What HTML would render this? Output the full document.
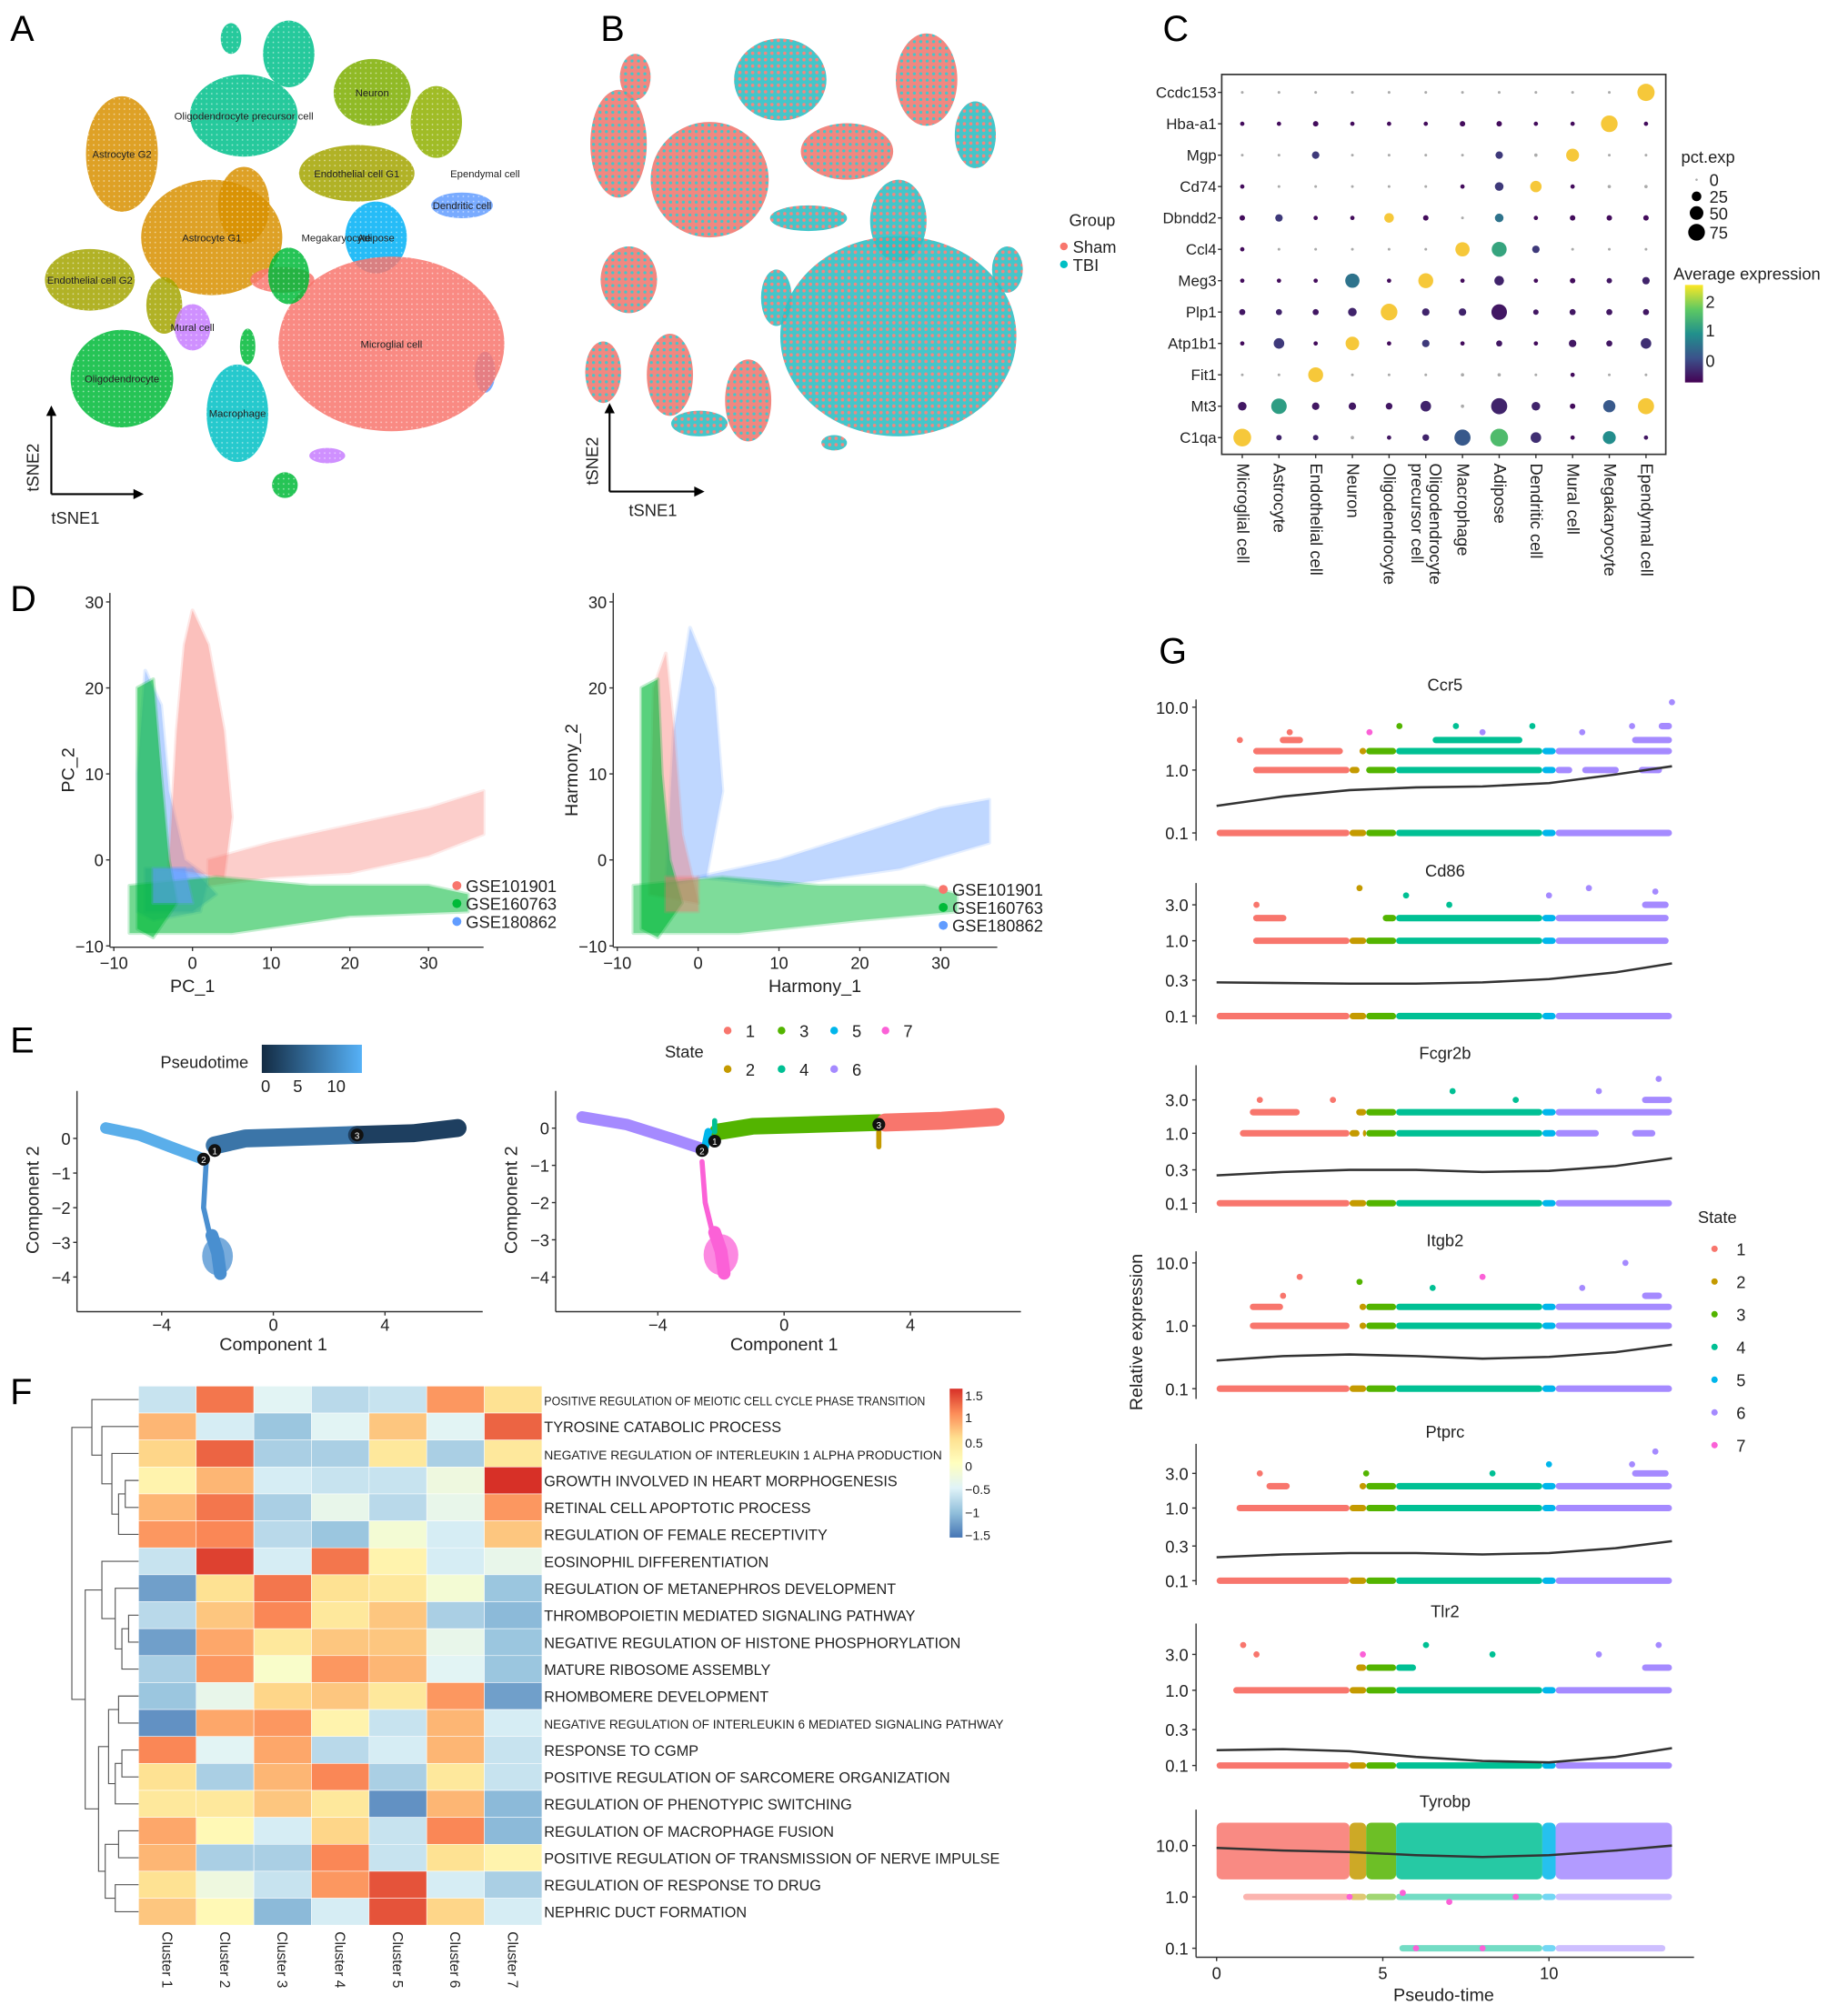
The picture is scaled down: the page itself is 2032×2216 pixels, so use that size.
<!DOCTYPE html>
<html><head><meta charset="utf-8">
<style>
html,body{margin:0;padding:0;background:#fff;}
svg{display:block;font-family:"Liberation Sans",sans-serif;}
</style></head>
<body>
<svg id="fig" xmlns="http://www.w3.org/2000/svg" width="2032" height="2216" viewBox="0 0 1440 1570" preserveAspectRatio="none"></svg>
<script>
// ===== Data arrays =====
const dotGenes = ["Ccdc153","Hba-a1","Mgp","Cd74","Dbndd2","Ccl4","Meg3","Plp1","Atp1b1","Fit1","Mt3","C1qa"];
const dotCells = ["Microglial cell","Astrocyte","Endothelial cell","Neuron","Oligodendrocyte","Oligodendrocyte|precursor cell","Macrophage","Adipose","Dendritic cell","Mural cell","Megakaryocyte","Ependymal cell"];
const dotPct = [
[2,2,2,2,2,2,2,2,2,2,2,80],
[5,5,8,5,5,5,8,8,5,5,75,5],
[2,2,15,2,2,2,2,15,3,45,2,2],
[5,2,2,2,2,2,5,20,35,5,3,3],
[8,15,5,5,25,8,2,20,5,8,8,8],
[5,2,2,2,2,2,55,60,15,2,2,2],
[5,5,5,55,5,60,5,25,5,8,8,15],
[10,10,10,20,75,15,15,65,8,10,10,10],
[5,30,5,50,5,15,5,10,5,15,10,30],
[2,2,60,2,2,2,3,3,2,5,2,2],
[20,65,15,15,12,30,3,70,20,8,40,70],
[85,8,8,3,5,12,70,85,30,5,45,5]];
const dotAvg = [
[-0.4,-0.4,-0.4,-0.4,-0.4,-0.4,-0.4,-0.4,-0.4,-0.4,-0.4,2.4],
[-0.4,-0.4,-0.4,-0.4,-0.4,-0.4,-0.4,-0.4,-0.4,-0.4,2.4,-0.4],
[-0.4,-0.4,0,-0.4,-0.4,-0.4,-0.4,0,-0.4,2.4,-0.4,-0.4],
[-0.4,-0.4,-0.4,-0.4,-0.4,-0.4,-0.4,0,2.4,-0.4,-0.4,-0.4],
[-0.4,0,-0.4,-0.4,2.3,-0.4,-0.4,0.6,-0.4,-0.4,-0.4,-0.4],
[-0.4,-0.4,-0.4,-0.4,-0.4,-0.4,2.4,1.2,0,-0.4,-0.4,-0.4],
[-0.4,-0.4,-0.4,0.6,-0.4,2.4,-0.4,-0.2,-0.4,-0.4,-0.3,-0.2],
[-0.3,-0.2,-0.3,-0.2,2.4,-0.2,-0.2,-0.3,-0.3,-0.3,-0.3,-0.3],
[-0.4,0,-0.4,2.4,-0.4,0,-0.4,-0.3,-0.4,-0.3,-0.3,-0.1],
[-0.4,-0.4,2.4,-0.4,-0.4,-0.4,-0.4,-0.4,-0.4,-0.4,-0.4,-0.4],
[-0.3,1.1,-0.3,-0.3,-0.3,-0.2,-0.4,-0.2,-0.2,-0.4,0.3,2.4],
[2.4,-0.2,-0.2,-0.3,-0.3,-0.2,0.3,1.5,-0.1,-0.4,0.9,-0.3]];

const hmTerms = ["POSITIVE REGULATION OF MEIOTIC CELL CYCLE PHASE TRANSITION","TYROSINE CATABOLIC PROCESS","NEGATIVE REGULATION OF INTERLEUKIN 1 ALPHA PRODUCTION","GROWTH INVOLVED IN HEART MORPHOGENESIS","RETINAL CELL APOPTOTIC PROCESS","REGULATION OF FEMALE RECEPTIVITY","EOSINOPHIL DIFFERENTIATION","REGULATION OF METANEPHROS DEVELOPMENT","THROMBOPOIETIN MEDIATED SIGNALING PATHWAY","NEGATIVE REGULATION OF HISTONE PHOSPHORYLATION","MATURE RIBOSOME ASSEMBLY","RHOMBOMERE DEVELOPMENT","NEGATIVE REGULATION OF INTERLEUKIN 6 MEDIATED SIGNALING PATHWAY","RESPONSE TO CGMP","POSITIVE REGULATION OF SARCOMERE ORGANIZATION","REGULATION OF PHENOTYPIC SWITCHING","REGULATION OF MACROPHAGE FUSION","POSITIVE REGULATION OF TRANSMISSION OF NERVE IMPULSE","REGULATION OF RESPONSE TO DRUG","NEPHRIC DUCT FORMATION"];
const hmClusters = ["Cluster 1","Cluster 2","Cluster 3","Cluster 4","Cluster 5","Cluster 6","Cluster 7"];
const hmValues = [
[-0.7,1.2,-0.5,-0.8,-0.7,1.0,0.5],
[0.8,-0.6,-1.0,-0.5,0.7,-0.5,1.3],
[0.6,1.3,-0.9,-0.9,0.4,-0.9,0.4],
[0.2,0.8,-0.6,-0.7,-0.7,-0.3,1.6],
[0.8,1.2,-0.9,-0.4,-0.8,-0.4,1.0],
[1.0,1.1,-0.8,-1.0,-0.2,-0.6,0.7],
[-0.7,1.5,-0.6,1.2,0.2,-0.6,-0.4],
[-1.3,0.5,1.2,0.5,0.4,-0.2,-1.0],
[-0.8,0.7,1.1,0.4,0.7,-0.9,-1.1],
[-1.3,0.9,0.4,0.7,0.7,-0.4,-1.0],
[-0.9,1.0,-0.1,1.0,0.8,-0.5,-1.0],
[-1.0,-0.4,0.6,0.7,0.4,1.0,-1.3],
[-1.4,0.9,1.0,0.2,-0.7,0.8,-0.6],
[1.1,-0.5,0.9,-0.8,-0.6,0.8,-0.7],
[0.5,-0.9,0.8,1.1,-0.9,0.4,-0.7],
[0.4,0.4,0.7,0.4,-1.4,0.8,-1.1],
[0.9,0.1,-0.6,0.6,-0.7,1.1,-1.1],
[0.8,-0.9,-0.9,1.1,-0.7,0.5,0.2],
[0.5,-0.3,-0.7,1.0,1.4,-0.6,-0.9],
[0.7,0.1,-1.1,-0.6,1.4,0.6,-0.6]];
const hmMerges = [[3,4,0.2],[20,5,0.3],[2,21,0.4],[1,22,0.55],[0,23,0.7],[8,9,0.15],[25,10,0.25],[7,26,0.35],[6,27,0.55],[11,12,0.3],[13,14,0.25],[30,15,0.35],[29,31,0.45],[16,17,0.3],[18,19,0.35],[33,34,0.5],[32,35,0.6],[28,36,0.8],[24,37,1.0]];

const gGenes = ["Ccr5","Cd86","Fcgr2b","Itgb2","Ptprc","Tlr2","Tyrobp"];
const gTicks = [[10,1,0.1],[3,1,0.3,0.1],[3,1,0.3,0.1],[10,1,0.1],[3,1,0.3,0.1],[3,1,0.3,0.1],[10,1,0.1]];
const gCurveX = [0,2,4,6,8,10,12,13.7];
const gCurves = [
[0.27,0.38,0.48,0.53,0.55,0.62,0.85,1.15],
[0.28,0.275,0.27,0.27,0.28,0.31,0.38,0.5],
[0.25,0.28,0.3,0.3,0.28,0.29,0.34,0.44],
[0.28,0.33,0.35,0.33,0.3,0.32,0.38,0.5],
[0.21,0.23,0.24,0.24,0.23,0.24,0.28,0.35],
[0.16,0.165,0.155,0.13,0.115,0.11,0.13,0.17],
[9,8,7.5,6.5,6,6.5,8,10]];
// bands: [gene index, value, from, to]
const gBands = [
[0,0.1,0,13.7],[0,1,1.1,4.3],[0,1,4.5,10.7],[0,1,11,12.1],[0,1,12.7,13.4],[0,2,1.1,3.8],[0,2,4.3,13.7],[0,3,1.9,2.6],[0,3,6.5,9.2],[0,3,12.5,13.7],[0,5,13.3,13.7],
[1,0.1,0,13.7],[1,1,1.1,13.6],[1,2,1.1,2.1],[1,2,5,13.6],[1,3,12.8,13.6],
[2,0.1,0,13.7],[2,1,0.7,4.3],[2,1,4.4,11.5],[2,1,12.5,13.2],[2,2,1,2.5],[2,2,4.2,13.7],[2,3,12.8,13.7],
[3,0.1,0,13.7],[3,1,1,4],[3,1,4.3,13.7],[3,2,1,2],[3,2,4.3,13.7],[3,3,12.8,13.4],
[4,0.1,0,13.7],[4,1,0.6,13.7],[4,2,1.5,2.2],[4,2,4.3,13.7],[4,3,12.5,13.6],
[5,0.1,0,13.7],[5,1,0.5,13.7],[5,2,4.2,6],[5,2,12.8,13.7],
[6,1,0.8,13.7],[6,0.1,5.5,13.5]];
// dense cloud: [gene index, low value, high value, from, to]
const gClouds = [[6,2.2,28,0,13.7]];
const gSparse = [
[0,0.7,3,1],[0,2.2,4,1],[0,5.5,5,3],[0,8,4,6],[0,9.5,5,4],[0,11,4,6],[0,12.5,5,6],[0,13.7,12,6],[0,7.2,5,4],[0,4.6,4,7],
[1,1.2,3,1],[1,4.3,5,2],[1,5.7,4,4],[1,7,3,4],[1,11.2,5,6],[1,13.2,4.5,6],[1,10,4,6],
[2,1.3,3,1],[2,3.5,3,1],[2,7.1,4,4],[2,11.5,4,6],[2,13.3,6,6],[2,9,3,4],
[3,2.5,6,1],[3,8,6,7],[3,4.3,5,3],[3,12.3,10,6],[3,6.5,4,4],[3,11,4,6],[3,2,3,1],
[4,1.3,3,1],[4,4.5,3,3],[4,10,4,5],[4,12.5,4,6],[4,13.2,6,6],[4,8.3,3,4],
[5,0.8,4,1],[5,1.2,3,1],[5,4.4,3,7],[5,6.3,4,4],[5,8.3,3,4],[5,11.5,3,6],[5,13.3,4,6],
[6,4,1,7],[6,5.6,1.2,7],[6,7,0.8,7],[6,9,1,7],[6,6,0.1,7],[6,8,0.1,7]];
const stateSegs = [[0,4,1],[4,4.5,2],[4.5,5.4,3],[5.4,9.8,4],[9.8,10.2,5],[10.2,13.7,6]];
const stateColors = ["#F8766D","#C49A00","#53B400","#00C094","#00B6EB","#A58AFF","#FB61D7"];

// ===== helpers =====
const NS="http://www.w3.org/2000/svg";
const fig=document.getElementById('fig');
function mk(tag,attrs,parent){const e=document.createElementNS(NS,tag);for(const k in attrs)e.setAttribute(k,attrs[k]);(parent||fig).appendChild(e);return e;}
function txt(x,y,s,size,extra,parent){const e=mk('text',Object.assign({x:x,y:y,'font-size':size,fill:'#222'},extra||{}),parent);e.textContent=s;return e;}
function grp(name){const g=mk('g',{});return g;}

[["A",8,32],["B",468,32],["C",906,32],["D",8,476],["E",8,820],["F",8,1094],["G",903,517]].forEach(p=>{
  const t=txt(p[1],p[2],p[0],28,{fill:'#000'});
  
  
});

const defs=mk('defs',{});
// speckle pattern for tSNE A
const spk=mk('pattern',{id:'spk',width:4,height:4,patternUnits:'userSpaceOnUse'},defs);
mk('rect',{x:0,y:0,width:4,height:4,fill:'#000',opacity:0},spk);
mk('circle',{cx:1,cy:1,r:0.6,fill:'#fff',opacity:0.6},spk);

// ===== Panel A =====
const gA=grp('panel-a-tsne-clusters');
const aClusters=[
["#00C08B",225,42,20,26,""],["#00C08B",190,90,42,32,"Oligodendrocyte precursor cell"],["#00C08B",180,30,8,12,""],
["#7CAE00",290,72,30,26,"Neuron"],["#8FB000",340,95,20,28,""],
["#D89000",95,120,28,45,"Astrocyte G2"],["#D89000",165,185,55,45,"Astrocyte G1"],["#D89000",190,160,20,30,""],
["#A3A500",70,218,35,24,"Endothelial cell G2"],["#A3A500",128,238,14,22,""],["#A3A500",278,135,45,22,"Endothelial cell G1"],
["#00B0F6",293,185,24,28,"Adipose"],["#619CFF",360,160,24,10,"Dendritic cell"],["#619CFF",378,290,8,16,""],
["#F8766D",305,268,88,68,"Microglial cell"],["#F8766D",220,218,25,10,""],
["#00BA38",225,215,16,22,""],["#00BA38",95,295,40,38,"Oligodendrocyte"],["#00BA38",222,378,10,10,""],["#00BA38",193,270,6,14,""],
["#C77CFF",150,255,14,18,"Mural cell"],["#C77CFF",255,355,14,6,""],
["#00BFC4",185,322,24,38,"Macrophage"]];
aClusters.forEach(c=>{
  const e=mk('ellipse',{cx:c[1],cy:c[2],rx:c[3],ry:c[4],fill:c[0],opacity:0.85},gA);
  
  
  mk('ellipse',{cx:c[1],cy:c[2],rx:c[3],ry:c[4],fill:'url(#spk)'},gA);
});
aClusters.forEach(c=>{ if(c[5]) txt(c[1],c[2]+3,c[5],8,{'text-anchor':'middle',fill:'#222'},gA); });
txt(262,188,"Megakaryocyte",8,{'text-anchor':'middle'},gA);
txt(378,138,"Ependymal cell",8,{'text-anchor':'middle'},gA);
mk('line',{x1:40,y1:385,x2:40,y2:320,stroke:'#000','stroke-width':1.5},gA);
mk('line',{x1:40,y1:385,x2:108,y2:385,stroke:'#000','stroke-width':1.5},gA);
mk('path',{d:'M36,324 L40,316 L44,324 Z',fill:'#000'},gA);
mk('path',{d:'M104,381 L112,385 L104,389 Z',fill:'#000'},gA);
txt(30,383,"tSNE2",13,{transform:'rotate(-90 30 383)'},gA);
txt(40,408,"tSNE1",13,{},gA);

// ===== Panel B =====
const gB=grp('panel-b-tsne-group');
const pat=mk('pattern',{id:'mix',width:5,height:5,patternUnits:'userSpaceOnUse'},defs);
mk('rect',{x:0,y:0,width:5,height:5,fill:'#2EC0C4'},pat);
mk('circle',{cx:1.5,cy:1.5,r:1.3,fill:'#F07A72'},pat);
const pat2=mk('pattern',{id:'mixr',width:5,height:5,patternUnits:'userSpaceOnUse'},defs);
mk('rect',{x:0,y:0,width:5,height:5,fill:'#F07A72'},pat2);
mk('circle',{cx:2.5,cy:2.5,r:1.2,fill:'#2EC0C4'},pat2);
const bBlobs=[
["mix",700,262,92,78],["mixr",553,140,46,45],["mixr",482,112,22,42],["mix",608,62,36,32],["mixr",660,118,36,22],["mix",700,172,22,32],
["mixr",490,218,22,26],["mix",605,232,12,22],["mixr",470,290,14,24],["mixr",522,292,18,32],["mixr",583,312,18,32],["mixr",722,62,24,36],["mix",760,105,16,26],
["mix",785,210,12,18],["mix",630,170,30,10],["mixr",495,60,12,18],["mix",650,345,10,6],["mix",545,330,22,10]];
bBlobs.forEach(b=>{
  const e=mk('ellipse',{cx:b[1],cy:b[2],rx:b[3],ry:b[4],fill:'url(#'+b[0]+')',opacity:0.9},gB);
  
  
});
mk('line',{x1:475,y1:383,x2:475,y2:318,stroke:'#000','stroke-width':1.5},gB);
mk('line',{x1:475,y1:383,x2:545,y2:383,stroke:'#000','stroke-width':1.5},gB);
mk('path',{d:'M471,322 L475,314 L479,322 Z',fill:'#000'},gB);
mk('path',{d:'M541,379 L549,383 L541,387 Z',fill:'#000'},gB);
txt(466,378,"tSNE2",13,{transform:'rotate(-90 466 378)'},gB);
txt(490,402,"tSNE1",13,{},gB);
const gBL=grp('legend-group');
txt(833,176,"Group",13,{},gBL);
mk('circle',{cx:829,cy:192,r:3,fill:'#F8766D'},gBL); txt(836,197,"Sham",13,{},gBL);
mk('circle',{cx:829,cy:206,r:3,fill:'#00BFC4'},gBL); txt(836,211,"TBI",13,{},gBL);

// ===== Panel C =====
const gC=grp('panel-c-dotplot');
const cx0=968, cdx=28.6, cy0=72, cdy=24.45;
mk('rect',{x:952,y:58,width:346,height:296,fill:'none',stroke:'#333','stroke-width':1.2},gC);
function viridis(v){const t=Math.max(0,Math.min(1,(v+0.5)/2.9));
  const st=[[68,1,84],[59,82,139],[33,145,140],[94,201,98],[253,231,37]];
  const p=t*4,i=Math.min(3,Math.floor(p)),f=p-i;const a=st[i],b=st[i+1];
  return 'rgb('+a.map((x,k)=>Math.round(x+(b[k]-x)*f)).join(',')+')';}
function dotColor(v){const c=viridis(v);return v>=2.3?'#F6C83A':c;}
dotGenes.forEach((g,r)=>{
  const y=cy0+r*cdy;
  txt(948,y+4,g,12,{'text-anchor':'end'},gC);
  mk('line',{x1:949,y1:y,x2:952,y2:y,stroke:'#333'},gC);
  dotCells.forEach((c,ci)=>{
    const p=dotPct[r][ci], rad=Math.max(0.9,Math.sqrt(p/75)*6.5);
    const d=mk('circle',{cx:cx0+ci*cdx,cy:y,r:rad,fill:p<4?'#aaa':dotColor(dotAvg[r][ci])},gC);
    
    
  });
});
dotCells.forEach((c,ci)=>{
  const x=cx0+ci*cdx;
  mk('line',{x1:x,y1:354,x2:x,y2:357,stroke:'#333'},gC);
  const parts=c.split('|');
  parts.forEach((p,k)=>{
    const xx=x-4+(parts.length>1?(k===0?7:-7):0);
    txt(xx,361,p,13,{transform:'rotate(90 '+xx+' 361)'},gC);
  });
});
const gCL=grp('dotplot-legend');
txt(1310,127,"pct.exp",13,{},gCL);
[[0,140],[25,153],[50,166],[75,181]].forEach(l=>{
  mk('circle',{cx:1322,cy:l[1],r:Math.max(0.9,Math.sqrt(l[0]/75)*6.5),fill:l[0]===0?'#aaa':'#000'},gCL);
  txt(1332,l[1]+5,String(l[0]),13,{},gCL);
});
txt(1304,218,"Average expression",13,{},gCL);
const lg=mk('linearGradient',{id:'vir',x1:0,y1:1,x2:0,y2:0},defs);
[[0,'#440154'],[0.25,'#3B528B'],[0.5,'#21908C'],[0.75,'#5EC962'],[1,'#FDE725']].forEach(s=>mk('stop',{offset:s[0],'stop-color':s[1]},lg));
mk('rect',{x:1313,y:222,width:14,height:76,fill:'url(#vir)'},gCL);
[[2,235],[1,257],[0,281]].forEach(l=>txt(1329,l[1]+5,String(l[0]),13,{},gCL));

// ===== Panel D =====
function scatterPanel(name,ox,xs,legX,legY,xl,yl,xlabX,polys){
  const g=grp(name);
  const X=v=>ox+v*xs, Y=v=>670-v*6.7;
  polys.forEach(p=>{
    const e=mk('polygon',{points:p[2].map(q=>X(q[0])+','+Y(q[1])).join(' '),fill:p[0],opacity:p[1],stroke:p[0],'stroke-width':3,'stroke-opacity':0.4,'stroke-linejoin':'round'},g);
    
    
  });
  const ax0=X(-10.5);
  mk('line',{x1:ax0,y1:462,x2:ax0,y2:738,stroke:'#333'},g);
  mk('line',{x1:ax0,y1:738,x2:X(37),y2:738,stroke:'#333'},g);
  [30,20,10,0,-10].forEach(v=>{mk('line',{x1:ax0-3,y1:Y(v),x2:ax0,y2:Y(v),stroke:'#333'},g);txt(ax0-5,Y(v)+5,v<0?'\u221210':String(v),13,{'text-anchor':'end'},g);});
  [-10,0,10,20,30].forEach(v=>{mk('line',{x1:X(v),y1:738,x2:X(v),y2:741,stroke:'#333'},g);txt(X(v),755,v<0?'\u221210':String(v),13,{'text-anchor':'middle'},g);});
  txt(xlabX,773,xl,14,{'text-anchor':'middle'},g);
  txt(ax0-28,600,yl,14,{'text-anchor':'middle',transform:'rotate(-90 '+(ax0-28)+' 600)'},g);
  [['#F8766D','GSE101901'],['#00BA38','GSE160763'],['#619CFF','GSE180862']].forEach((l,i)=>{
    mk('circle',{cx:legX,cy:legY+i*14,r:3.5,fill:l[0]},g);txt(legX+7,legY+i*14+5,l[1],13,{},g);
  });
}
const R='#F8766D',Gc='#00BA38',Bc='#619CFF';
scatterPanel('panel-d-pca',150,6.13,356,690,'PC_1','PC_2',150,[
 [R,0.35,[[2,0],[10,2],[20,4],[30,6],[37,8],[37,3],[30,0.5],[20,-1.5],[10,-2],[2,-3]]],
 [Bc,0.45,[[-7,-6],[-7,10],[-6,22],[-4,18],[-3,8],[-1,0],[2,-2],[1,-6],[-5,-7]]],
 [R,0.45,[[-3,-1],[-2,15],[-1,25],[0,29],[2,25],[4,15],[5,5],[4,-2]]],
 [Bc,0.5,[[-6,-6],[-6,-1],[0,-1],[3,-4],[0,-6]]],
 [Gc,0.65,[[-7,-8],[-7,20],[-5,21],[-4,10],[-3,0],[-2,-5],[-5,-9]]],
 [Gc,0.55,[[-8,-8.5],[-8,-3],[3,-2],[15,-3],[30,-3],[35,-4],[35,-6],[20,-6.5],[5,-8.5]]],
 [Bc,0.6,[[-5,-5],[-5,-1],[-1,-1],[0,-5]]]
]);
scatterPanel('panel-d-harmony',544,6.3,735,693,'Harmony_1','Harmony_2',635,[
 [Bc,0.4,[[0,-2],[10,0],[20,3],[30,6],[36,7],[36,2],[25,-1],[10,-3]]],
 [Bc,0.4,[[-4,-3],[-3,15],[-1,27],[2,20],[3,8],[1,-2]]],
 [R,0.4,[[-6,-4],[-5.5,20],[-4,24],[-3,15],[-2,3],[0,-5]]],
 [Gc,0.65,[[-7,-8],[-7,20],[-5,21],[-4.5,10],[-3.5,0],[-2,-5],[-5,-9]]],
 [Gc,0.5,[[-8,-8.5],[-8,-3],[3,-2],[15,-3],[28,-3],[32,-4],[32,-6],[20,-7],[5,-8.5]]],
 [R,0.45,[[-4,-6],[-4,-2],[0,-2],[0,-6]]]
]);

// ===== Panel E =====
function trajPanel(name,axX,xs,x0,y0,ys,branches,nodes){
  const g=grp(name);
  const X=v=>x0+v*xs, Y=v=>y0-v*ys;
  branches.forEach(b=>{
    const e=mk('polyline',{points:b[2].map(q=>X(q[0])+','+Y(q[1])).join(' '),fill:'none',stroke:b[0],'stroke-width':b[1],'stroke-linecap':'round','stroke-linejoin':'round'},g);
    
    
    if(b[3]) mk('ellipse',{cx:X(b[3][0]),cy:Y(b[3][1]),rx:b[3][2]*xs,ry:b[3][3]*ys,fill:b[0],opacity:0.75},g);
  });
  nodes.forEach(n=>{mk('circle',{cx:X(n[0]),cy:Y(n[1]),r:5,fill:'#111'},g);txt(X(n[0]),Y(n[1])+3,n[2],7,{'text-anchor':'middle',fill:'#fff'},g);});
  mk('line',{x1:axX,y1:850,x2:axX,y2:1022,stroke:'#333'},g);
  mk('line',{x1:axX,y1:1022,x2:X(7.5),y2:1022,stroke:'#333'},g);
  [0,-1,-2,-3,-4].forEach(v=>{mk('line',{x1:axX-3,y1:Y(v),x2:axX,y2:Y(v),stroke:'#333'},g);txt(axX-5,Y(v)+5,v<0?'\u2212'+(-v):'0',13,{'text-anchor':'end'},g);});
  [-4,0,4].forEach(v=>{mk('line',{x1:X(v),y1:1022,x2:X(v),y2:1025,stroke:'#333'},g);txt(X(v),1037,v<0?'\u22124':String(v),13,{'text-anchor':'middle'},g);});
  txt(X(0),1052,"Component 1",14,{'text-anchor':'middle'},g);
  txt(axX-30,935,"Component 2",14,{'text-anchor':'middle',transform:'rotate(-90 '+(axX-30)+' 935)'},g);
}
trajPanel('panel-e-pseudotime',60,21.75,213,887,27,[
 ['#5AAEEA',9,[[-6,0.3],[-4.8,0.1],[-3.5,-0.3],[-2.5,-0.6]]],
 ['#4A8FD0',4,[[-2.4,-0.6],[-2.5,-2],[-2.3,-2.7]]],
 ['#4A8FD0',10,[[-2.2,-2.8],[-2,-3.3],[-1.9,-3.9]],[-2,-3.4,0.55,0.55]],
 ['#3B75A8',14,[[-2.1,-0.2],[-1,0],[1,0.05],[3,0.1]]],
 ['#1E3F60',14,[[3,0.1],[5,0.15],[6.6,0.3]]]
],[[-2.1,-0.35,'1'],[-2.5,-0.6,'2'],[3,0.1,'3']]);
const gPL=grp('pseudotime-legend');
txt(125,832,"Pseudotime",13,{},gPL);
const pg=mk('linearGradient',{id:'pt',x1:0,y1:0,x2:1,y2:0},defs);
mk('stop',{offset:0,'stop-color':'#132B43'},pg);mk('stop',{offset:1,'stop-color':'#56B1F7'},pg);
mk('rect',{x:204,y:814,width:78,height:22,fill:'url(#pt)'},gPL);
[[0,207],[5,232],[10,262]].forEach(l=>txt(l[1],851,String(l[0]),13,{'text-anchor':'middle'},gPL));

trajPanel('panel-e-state',433,24.6,611,879,29,[
 [stateColors[5],9,[[-6.4,0.3],[-5,0.1],[-3.5,-0.3],[-2.6,-0.55]]],
 [stateColors[6],4,[[-2.6,-0.9],[-2.5,-2],[-2.3,-2.7]]],
 [stateColors[6],10,[[-2.2,-2.8],[-2,-3.3],[-1.9,-3.9]],[-2,-3.4,0.55,0.55]],
 [stateColors[2],13,[[-2.1,-0.1],[-1,0.05],[1,0.1],[3,0.15]]],
 [stateColors[0],14,[[3.2,0.15],[5,0.2],[6.7,0.3]]],
 [stateColors[4],6,[[-2.5,-0.5],[-2.4,-0.1]]],
 [stateColors[3],4,[[-2.2,-0.1],[-2.2,0.2]]],
 [stateColors[1],4,[[3,-0.1],[3,-0.5]]]
],[[-2.2,-0.35,'1'],[-2.6,-0.6,'2'],[3,0.1,'3']]);
const gSL=grp('state-legend-e');
txt(518,824,"State",13,{},gSL);
[[1,567,803],[3,609,803],[5,650,803],[7,690,803],[2,567,833],[4,609,833],[6,650,833]].forEach(l=>{
  mk('circle',{cx:l[1],cy:l[2],r:3,fill:stateColors[l[0]-1]},gSL);txt(l[1]+14,l[2]+5,String(l[0]),13,{},gSL);
});

// ===== Panel F =====
const gF=grp('panel-f-heatmap');
const hx0=108,hw=44.9,hy0=1080,hh=21;
const condensed={0:297,2:310,12:358};
function rdylbu(v){const t=Math.max(0,Math.min(1,(v+1.6)/3.2));
  const st=[[69,117,180],[145,191,219],[224,243,248],[255,255,191],[254,224,144],[252,141,89],[215,48,39]];
  const p=t*6,i=Math.min(5,Math.floor(p)),f=p-i;const a=st[i],b=st[i+1];
  return 'rgb('+a.map((x,k)=>Math.round(x+(b[k]-x)*f)).join(',')+')';}
hmValues.forEach((row,r)=>{
  row.forEach((v,c)=>{
    const e=mk('rect',{x:hx0+c*hw,y:hy0+r*hh,width:hw,height:hh,fill:rdylbu(v),stroke:'#fff','stroke-width':0.4},gF);
    
    
  });
  if(condensed[r]!==undefined){
    txt(424,hy0+r*hh+15,hmTerms[r],10,{textLength:condensed[r],lengthAdjust:'spacingAndGlyphs'},gF);
  } else {
    txt(424,hy0+r*hh+15,hmTerms[r],11.5,{},gF);
  }
});
hmClusters.forEach((c,i)=>{const x=hx0+i*hw+hw/2-4;txt(x,1505,c,11,{transform:'rotate(90 '+x+' 1505)'},gF);});
const nodePos=[];for(let i=0;i<20;i++)nodePos.push([108,hy0+i*hh+hh/2]);
hmMerges.forEach(m=>{
  const a=nodePos[m[0]],b=nodePos[m[1]],x=108-m[2]*52;
  mk('polyline',{points:a[0]+','+a[1]+' '+x+','+a[1]+' '+x+','+b[1]+' '+b[0]+','+b[1],fill:'none',stroke:'#555','stroke-width':0.8},gF);
  nodePos.push([x,(a[1]+b[1])/2]);
});
const hg=mk('linearGradient',{id:'hmg',x1:0,y1:1,x2:0,y2:0},defs);
['#4575B4','#91BFDB','#E0F3F8','#FFFFBF','#FEE090','#FC8D59','#D73027'].forEach((c,i)=>mk('stop',{offset:i/6,'stop-color':c},hg));
mk('rect',{x:740,y:1082,width:10,height:116,fill:'url(#hmg)'},gF);
[['1.5',1087],['1',1104],['0.5',1124],['0',1142],['\u22120.5',1160],['\u22121',1178],['\u22121.5',1196]].forEach(l=>txt(752,l[1]+4,l[0],10,{},gF));

// ===== Panel G =====
const gX=v=>948+v*25.9;
const gY1=[600,733,883,1033,1175,1317,1478], gDec=[49,58.7,54.5,49,56.6,58.6,40];
const gTitleY=[538,683,825,971,1120,1260,1408];
const gTop=[545,688,830,975,1125,1265,1410], gBot=[655,798,945,1090,1235,1380,1525];
gGenes.forEach((gn,gi)=>{
  const g=grp('panel-g-'+gn.toLowerCase());
  const Y=v=>gY1[gi]-Math.log10(v)*gDec[gi];
  txt(1126,gTitleY[gi],gn,13,{'text-anchor':'middle'},g);
  mk('line',{x1:932,y1:gTop[gi],x2:932,y2:gBot[gi],stroke:'#333'},g);
  gTicks[gi].forEach(t=>{mk('line',{x1:929,y1:Y(t),x2:932,y2:Y(t),stroke:'#333'},g);txt(926,Y(t)+5,t.toFixed(1),13,{'text-anchor':'end'},g);});
  gClouds.filter(c=>c[0]===gi).forEach(c=>{
    stateSegs.forEach(s=>{
      const a=Math.max(c[3],s[0]),e=Math.min(c[4],s[1]);
      if(e>a){const r=mk('rect',{x:gX(a),y:Y(c[2]),width:gX(e)-gX(a),height:Y(c[1])-Y(c[2]),rx:4,fill:stateColors[s[2]-1],opacity:0.85},g);
        
        }
    });
  });
  gBands.filter(b=>b[0]===gi).forEach(b=>{
    stateSegs.forEach(s=>{
      const a=Math.max(b[2],s[0]),e=Math.min(b[3],s[1]);
      if(e>a){const r=mk('rect',{x:gX(a),y:Y(b[1])-2.5,width:gX(e)-gX(a),height:5,rx:2.5,fill:stateColors[s[2]-1],opacity:(gi===6?0.55:1)},g);
        
        }
    });
  });
  gSparse.filter(p=>p[0]===gi).forEach(p=>{
    const c=mk('circle',{cx:gX(p[1]),cy:Y(p[2]),r:2.4,fill:stateColors[p[3]-1]},g);
    
    
  });
  let d='';gCurveX.forEach((x,i)=>{d+=(i?' L':'M')+gX(x)+','+Y(gCurves[gi][i]);});
  const pl=mk('path',{d:d,fill:'none',stroke:'#333','stroke-width':1.8},g);
  
  
});
const gAx=grp('panel-g-x-axis');
mk('line',{x1:932,y1:1525,x2:1320,y2:1525,stroke:'#333'},gAx);
[0,5,10].forEach(v=>{mk('line',{x1:gX(v),y1:1525,x2:gX(v),y2:1528,stroke:'#333'},gAx);txt(gX(v),1542,String(v),13,{'text-anchor':'middle'},gAx);});
txt(1125,1559,"Pseudo-time",14,{'text-anchor':'middle'},gAx);
txt(890,1038,"Relative expression",14,{'text-anchor':'middle',transform:'rotate(-90 890 1038)'},gAx);
const gGL=grp('state-legend-g');
txt(1323,953,"State",13,{},gGL);
stateColors.forEach((c,i)=>{const y=973+i*25.5;mk('circle',{cx:1336,cy:y,r:2.5,fill:c},gGL);txt(1353,y+5,String(i+1),13,{},gGL);});
</script>
</body></html>
